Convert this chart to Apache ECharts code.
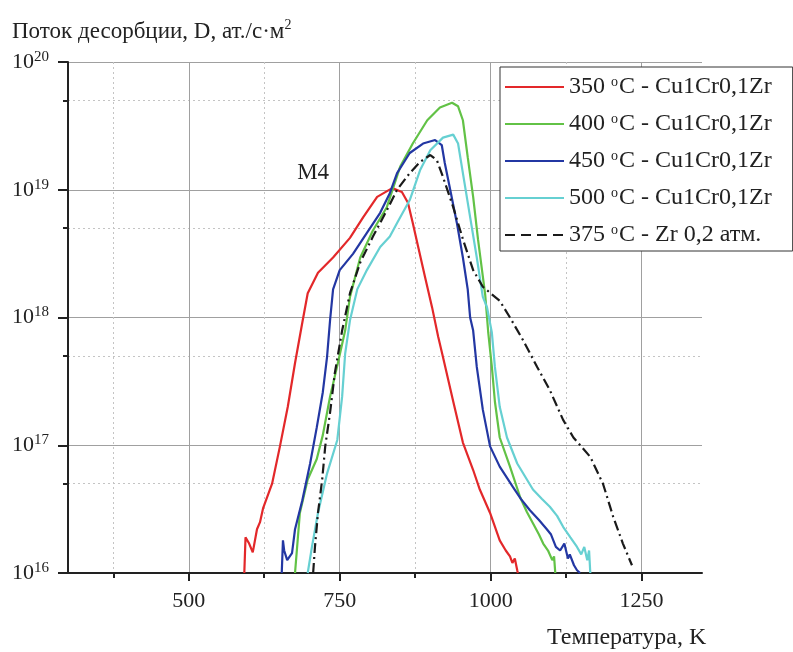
<!DOCTYPE html>
<html><head><meta charset="utf-8">
<script src="https://cdn.jsdelivr.net/npm/echarts@6/dist/echarts.min.js"></script>
<style>html,body{margin:0;padding:0;background:#fff}#c{width:793px;height:652px}</style>
</head><body><div id="c"></div>
<script>
const majorX = [500, 750, 1000, 1250];
const minorX = [375, 625, 875, 1125];
const minorY = [5e16, 5e17, 5e18, 5e19];
const seriesNames = ['350 °C - Cu1Cr0,1Zr', '400 °C - Cu1Cr0,1Zr', '450 °C - Cu1Cr0,1Zr', '500 °C - Cu1Cr0,1Zr', '375 °C - Zr 0,2 атм.'];
const red350 = [[592,1.0e16],[594,1.9e16],[597,1.95e16],[600,1.7e16],[606,1.45e16],[613,2.2e16],[618,2.5e16],[623,3.2e16],[638,5.0e16],[651,9.8e16],[664,2.0e17],[676,4.4e17],[688,9.1e17],[697,1.55e18],[714,2.24e18],[739,2.95e18],[767,4.2e18],[789,6.1e18],[812,8.8e18],[837,1.03e19],[853,9.6e18],[863,7.9e18],[871,5.5e18],[880,3.56e18],[891,2.1e18],[903,1.2e18],[913,7.1e17],[921,4.9e17],[938,2.2e17],[954,1.05e17],[971,6.4e16],[982,4.5e16],[999,2.95e16],[1015,1.8e16],[1025,1.5e16],[1032,1.35e16],[1036,1.2e16],[1040,1.3e16],[1044,1.05e16],[1045,1.0e16]];
const green400 = [[676,1.0e16],[684,2.95e16],[697,5.4e16],[712,7.8e16],[722,1.2e17],[734,2.4e17],[747,4.4e17],[759,7.9e17],[767,1.45e18],[784,2.95e18],[805,4.8e18],[828,7.3e18],[850,1.51e19],[871,2.3e19],[895,3.5e19],[916,4.4e19],[936,4.8e19],[946,4.5e19],[954,3.5e19],[962,1.8e19],[971,8.8e18],[979,4.1e18],[987,2.1e18],[991,1.5e18],[996,7.6e17],[1002,4.1e17],[1007,2.2e17],[1015,1.15e17],[1032,6.8e16],[1049,3.9e16],[1060,3.0e16],[1070,2.45e16],[1080,2.0e16],[1087,1.7e16],[1095,1.5e16],[1102,1.26e16],[1105,1.35e16],[1107,1.0e16]];
const blue450 = [[654,1.0e16],[656,1.8e16],[658,1.5e16],[663,1.26e16],[671,1.43e16],[676,2.2e16],[688,3.7e16],[701,7.2e16],[712,1.38e17],[722,2.6e17],[729,4.9e17],[734,9.5e17],[739,1.66e18],[750,2.35e18],[772,3.15e18],[795,4.6e18],[817,6.6e18],[833,9.4e18],[845,1.35e19],[866,1.94e19],[888,2.3e19],[908,2.45e19],[919,2.24e19],[924,1.62e19],[933,1.0e19],[944,5.5e18],[954,2.95e18],[962,1.66e18],[966,1.0e18],[971,7.9e17],[977,4.1e17],[987,1.9e17],[999,9.8e16],[1015,6.8e16],[1037,4.7e16],[1050,3.8e16],[1065,3.1e16],[1080,2.6e16],[1093,2.2e16],[1100,2.0e16],[1108,1.6e16],[1115,1.5e16],[1122,1.7e16],[1128,1.3e16],[1131,1.4e16],[1138,1.15e16],[1143,1.05e16],[1148,1.0e16]];
const cyan500 = [[697,1.0e16],[704,1.6e16],[714,2.95e16],[729,6.0e16],[746,1.1e17],[754,2.4e17],[759,5.2e17],[767,9.5e17],[779,1.66e18],[795,2.35e18],[817,3.56e18],[833,4.3e18],[845,5.5e18],[866,8.3e18],[883,1.42e19],[900,2.04e19],[921,2.56e19],[938,2.7e19],[946,2.3e19],[954,1.35e19],[966,6.1e18],[977,2.95e18],[987,1.45e18],[994,1.2e18],[1002,7.6e17],[1007,4.1e17],[1015,2.0e17],[1027,1.15e17],[1044,7.2e16],[1070,4.5e16],[1085,3.8e16],[1098,3.3e16],[1110,2.8e16],[1120,2.3e16],[1132,1.9e16],[1143,1.6e16],[1150,1.4e16],[1155,1.6e16],[1160,1.26e16],[1163,1.5e16],[1165,1.0e16]];
const black375 = [[706,1.0e16],[709,1.6e16],[714,2.95e16],[721,5.4e16],[726,9.8e16],[734,1.8e17],[742,3.7e17],[754,7.9e17],[767,1.55e18],[784,2.7e18],[805,4.3e18],[828,6.9e18],[845,1.0e19],[866,1.35e19],[883,1.65e19],[900,1.87e19],[911,1.7e19],[921,1.26e19],[938,7.3e18],[954,4.1e18],[971,2.35e18],[987,1.74e18],[1015,1.35e18],[1032,1.0e18],[1054,6.6e17],[1077,4.1e17],[1098,2.7e17],[1120,1.58e17],[1137,1.15e17],[1165,8.1e16],[1186,5.0e16],[1203,2.75e16],[1219,1.7e16],[1234,1.15e16]];
const colors = ['#e3282a', '#62c246', '#2337a3', '#66d0d2', '#1a1a1a'];

const FONT = 'Liberation Serif';
const chart = echarts.init(document.getElementById('c'), null, {renderer: 'canvas'});
function mkLine(name, data, color, dash) {
  return {
    name: name, type: 'line', data: data, xAxisIndex: 0, yAxisIndex: 0,
    showSymbol: false, symbol: 'none', smooth: false, animation: false,
    lineStyle: {color: color, width: 2.2, type: dash || 'solid'},
    itemStyle: {color: color}
  };
}
const series = [
  mkLine(seriesNames[0], red350, colors[0]),
  mkLine(seriesNames[1], green400, colors[1]),
  mkLine(seriesNames[2], blue450, colors[2]),
  mkLine(seriesNames[3], cyan500, colors[3]),
  mkLine(seriesNames[4], black375, colors[4], [10, 4, 2, 4])
];
series[0].markPoint = {
  symbol: 'circle', symbolSize: 0, silent: true,
  label: {show: true, position: 'inside', formatter: 'M4', color: '#222', fontFamily: FONT, fontSize: 23},
  data: [{coord: [706, 1.35e19]}]
};
const legendData = seriesNames.map(function (n, i) {
  return i === 4 ? {name: n, lineStyle: {type: [10, 6], width: 2}} : {name: n};
});
chart.setOption({
  animation: false,
  backgroundColor: '#fff',
  title: [
    {text: 'Поток десорбции, D, ат./с·м{s|2}', left: 12, top: 18, padding: 0,
     textStyle: {fontFamily: FONT, fontSize: 23, fontWeight: 'normal', color: '#222',
       rich: {s: {fontFamily: FONT, fontSize: 14, color: '#222', padding: [0, 0, 13, 0]}}}},
    {text: 'Температура, K', left: 547, top: 626, padding: 0,
     textStyle: {fontFamily: FONT, fontSize: 24, fontWeight: 'normal', color: '#222'}}
  ],
  grid: {left: 68, right: 91, top: 62, bottom: 79, containLabel: false},
  legend: {
    orient: 'vertical', left: 500, top: 67,
    padding: [8, 21, 4, 4], itemGap: 13, itemWidth: 59, itemHeight: 14,
    borderColor: '#333', borderWidth: 1, backgroundColor: '#fff',
    itemStyle: {opacity: 0, borderWidth: 0},
    data: legendData,
    formatter: function (n) { return n.replace('°', '{o|o}'); },
    textStyle: {fontFamily: FONT, fontSize: 24, color: '#222', lineHeight: 24,
      rich: {o: {fontFamily: FONT, fontSize: 14, color: '#222', padding: [0, 1, 10, 0]}}}
  },
  xAxis: [
    {type: 'value', min: 300, max: 1350, position: 'bottom',
     axisLine: {show: true, onZero: false, lineStyle: {color: '#222', width: 2}},
     axisTick: {show: true, customValues: majorX, length: 8, lineStyle: {color: '#222', width: 2}},
     axisLabel: {show: true, customValues: majorX, margin: 17, fontFamily: FONT, fontSize: 22, color: '#222',
       formatter: function (v) { return String(v); }},
     splitLine: {show: true, lineStyle: {color: '#a0a0a0', width: 1}}},
    {type: 'value', min: 300, max: 1350, position: 'bottom',
     axisLine: {show: false, onZero: false},
     axisTick: {show: true, customValues: minorX, length: 5, lineStyle: {color: '#222', width: 2}},
     axisLabel: {show: false},
     splitLine: {show: true, lineStyle: {color: '#c4c4c4', width: 1, type: [2, 3]}}}
  ],
  yAxis: [
    {type: 'log', logBase: 10, min: 1e16, max: 1e20, position: 'left',
     axisLine: {show: true, onZero: false, lineStyle: {color: '#222', width: 2}},
     axisTick: {show: true, length: 10, lineStyle: {color: '#222', width: 2}},
     axisLabel: {show: true, margin: 19, color: '#222',
       formatter: function (v) { return '{b|10}{s|' + Math.round(Math.log10(v)) + '}'; },
       rich: {b: {fontFamily: FONT, fontSize: 22, color: '#222'},
              s: {fontFamily: FONT, fontSize: 15, color: '#222', padding: [0, 0, 10, 0]}}},
     splitLine: {show: true, lineStyle: {color: '#a0a0a0', width: 1}}},
    {type: 'log', logBase: 10, min: 1e16, max: 1e20, position: 'left',
     axisLine: {show: false, onZero: false},
     axisTick: {show: true, customValues: minorY, length: 5, lineStyle: {color: '#222', width: 2}},
     axisLabel: {show: false},
     splitLine: {show: true, lineStyle: {color: '#c4c4c4', width: 1, type: [2, 3]}}}
  ],
  series: series
});
</script></body></html>
